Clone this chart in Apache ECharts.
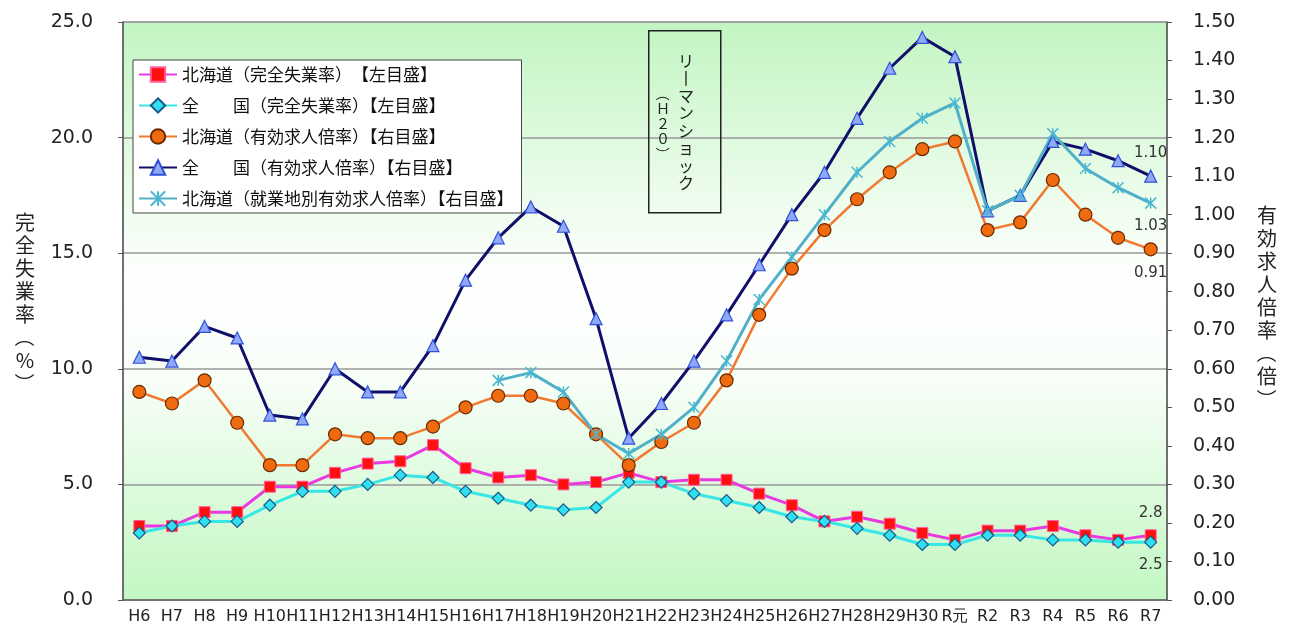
<!DOCTYPE html>
<html>
<head>
<meta charset="utf-8">
<script src="https://cdn.jsdelivr.net/npm/echarts@6/dist/echarts.min.js"></script>
<style>
  html, body { margin: 0; padding: 0; background: #fff; }
  #chart { width: 1293px; height: 626px; }
</style>
</head>
<body>
<div id="chart"></div>
<script>
// 年度
const years = ['H6','H7','H8','H9','H10','H11','H12','H13','H14','H15','H16','H17','H18','H19','H20',
  'H21','H22','H23','H24','H25','H26','H27','H28','H29','H30','R元','R2','R3','R4','R5','R6','R7'];

// 完全失業率（%）左目盛
const hokkaidoUnemp = [3.2,3.2,3.8,3.8,4.9,4.9,5.5,5.9,6.0,6.7,5.7,5.3,5.4,5.0,5.1,5.5,5.1,5.2,5.2,4.6,
  4.1,3.4,3.6,3.3,2.9,2.6,3.0,3.0,3.2,2.8,2.6,2.8];
const nationUnemp = [2.9,3.2,3.4,3.4,4.1,4.7,4.7,5.0,5.4,5.3,4.7,4.4,4.1,3.9,4.0,5.1,5.1,4.6,4.3,4.0,
  3.6,3.4,3.1,2.8,2.4,2.4,2.8,2.8,2.6,2.6,2.5,2.5];

// 有効求人倍率（倍）右目盛
const hokkaidoRatio = [0.54,0.51,0.57,0.46,0.35,0.35,0.43,0.42,0.42,0.45,0.50,0.53,0.53,0.51,0.43,0.35,
  0.41,0.46,0.57,0.74,0.86,0.96,1.04,1.11,1.17,1.19,0.96,0.98,1.09,1.00,0.94,0.91];
const nationRatio = [0.63,0.62,0.71,0.68,0.48,0.47,0.60,0.54,0.54,0.66,0.83,0.94,1.02,0.97,0.73,0.42,
  0.51,0.62,0.74,0.87,1.00,1.11,1.25,1.38,1.46,1.41,1.01,1.05,1.19,1.17,1.14,1.10];
const workplaceRatio = [null,null,null,null,null,null,null,null,null,null,null,
  0.57,0.59,0.54,0.43,0.38,0.43,0.50,0.62,0.78,0.89,1.00,1.11,1.19,1.25,1.29,1.01,1.05,1.21,1.12,1.07,1.03];

const leftTicks = [0, 25, 5];
const rightTicks = [0, 1.5, 0.1];

// 縦書きの軸タイトル
const leftTitle = ['完','全','失','業','率','(','%',')'];
const rightTitle = ['有','効','求','人','倍','率','(','倍',')'];

const JP = '"Noto Sans CJK JP", sans-serif';
const NUM = '"DejaVu Sans", sans-serif';

// 最終年度だけラベルを付ける
function withEndLabel(arr, pos, digits) {
  return arr.map((v, i) => i === arr.length - 1
    ? { value: v, label: { show: true, position: pos, distance: 9, formatter: p => p.value.toFixed(digits),
        fontSize: 15, fontFamily: NUM, color: '#333' } }
    : v);
}

// 縦書きテキスト（括弧だけ90度回転）
function verticalText(chars, x, y0, step, size) {
  return chars.map((c, i) => {
    const paren = c === '(' || c === ')';
    return {
      type: 'text', x: x, y: y0 + i * step, z: 100,
      rotation: paren ? -Math.PI / 2 : 0,
      style: { text: paren ? (c === '(' ? '（' : '）') : c, font: size + 'px ' + JP, fill: '#222',
        align: 'center', verticalAlign: 'middle' }
    };
  });
}

const chart = echarts.init(document.getElementById('chart'));

const option = {
  animation: false,
  grid: {
    left: 123, right: 126, top: 22, bottom: 26,
    show: true,
    borderColor: '#888',
    borderWidth: 1,
    backgroundColor: {
      type: 'linear', x: 0, y: 0, x2: 0, y2: 1,
      colorStops: [
        { offset: 0, color: '#c2f5c2' },
        { offset: 0.3, color: '#ecfcec' },
        { offset: 0.45, color: '#ffffff' },
        { offset: 0.62, color: '#f8fef8' },
        { offset: 1, color: '#c2f7c2' }
      ]
    }
  },
  legend: {
    orient: 'vertical',
    left: 133, top: 60,
    padding: [6, 8, 6, 5],
    itemWidth: 38, itemHeight: 18, itemGap: 14,
    backgroundColor: '#fff',
    borderColor: '#444', borderWidth: 1,
    textStyle: { fontSize: 17, fontFamily: JP, color: '#111' }
  },
  xAxis: {
    type: 'category',
    data: years,
    axisLine: { lineStyle: { color: '#666', width: 1.5 } },
    axisTick: { inside: true, length: 5, lineStyle: { color: '#666' } },
    axisLabel: { interval: 0, margin: 9, fontSize: 16, fontFamily: NUM, color: '#222' },
    splitLine: { show: false }
  },
  yAxis: [{
    type: 'value',
    min: leftTicks[0], max: leftTicks[1], interval: leftTicks[2],
    axisLine: { show: true, lineStyle: { color: '#555', width: 1.5 } },
    axisTick: { show: true, length: 5, lineStyle: { color: '#555' } },
    axisLabel: { margin: 30, fontSize: 19, fontFamily: NUM, color: '#222', formatter: v => v.toFixed(1) },
    splitLine: { show: true, lineStyle: { color: '#999', width: 1.5 } }
  }, {
    type: 'value',
    min: rightTicks[0], max: rightTicks[1], interval: rightTicks[2],
    axisLine: { show: true, lineStyle: { color: '#555', width: 1.5 } },
    axisTick: { show: true, length: 5, lineStyle: { color: '#555' } },
    axisLabel: { margin: 26, fontSize: 19, fontFamily: NUM, color: '#222', formatter: v => v.toFixed(2) },
    splitLine: { show: false }
  }],
  series: [{
    name: '北海道（完全失業率）　【左目盛】',
    type: 'line', yAxisIndex: 0,
    data: withEndLabel(hokkaidoUnemp, 'top', 1),
    symbol: 'rect', symbolSize: 11,
    lineStyle: { color: '#e83ae0', width: 3 },
    itemStyle: { color: '#ff1010', borderColor: '#ff60a0', borderWidth: 1 }
  }, {
    name: '全　　国（完全失業率）【左目盛】',
    type: 'line', yAxisIndex: 0,
    data: withEndLabel(nationUnemp, 'bottom', 1),
    symbol: 'diamond', symbolSize: 12,
    lineStyle: { color: '#38e6e6', width: 3 },
    itemStyle: { color: '#30e0f0', borderColor: '#1a5a8a', borderWidth: 1.2 }
  }, {
    name: '北海道（有効求人倍率）【右目盛】',
    type: 'line', yAxisIndex: 1,
    data: withEndLabel(hokkaidoRatio, 'bottom', 2),
    symbol: 'circle', symbolSize: 13,
    lineStyle: { color: '#f07a30', width: 2.5 },
    itemStyle: { color: '#f06a10', borderColor: '#6a2a00', borderWidth: 1.2 }
  }, {
    name: '全　　国（有効求人倍率）【右目盛】',
    type: 'line', yAxisIndex: 1,
    data: withEndLabel(nationRatio, 'top', 2),
    symbol: 'triangle', symbolSize: 12,
    lineStyle: { color: '#10106a', width: 3 },
    itemStyle: { color: '#90a8f8', borderColor: '#3050d8', borderWidth: 1.2 }
  }, {
    name: '北海道（就業地別有効求人倍率）【右目盛】',
    type: 'line', yAxisIndex: 1,
    data: withEndLabel(workplaceRatio, 'bottom', 2),
    symbol: 'path://M0,0L10,10M10,0L0,10M5,0L5,10', symbolSize: 11,
    lineStyle: { color: '#50b0c8', width: 3 },
    itemStyle: { color: '#4ab8d0', borderColor: '#4ab8d0', borderWidth: 1.5 }
  }],
  graphic: [
    ...verticalText(leftTitle, 25, 222, 23, 20),
    ...verticalText(rightTitle, 1267, 215, 23, 20),
    {
      type: 'rect', left: 648, top: 30,
      shape: { width: 72, height: 182 },
      style: { fill: 'rgba(255,255,255,0)', stroke: '#222', lineWidth: 1.5 },
      z: 100
    }, {
      type: 'text', x: 686, y: 52, z: 100,
      style: { text: 'リ\n丨\nマ\nン\nシ\nョ\nッ\nク', font: '16px ' + JP, fill: '#222', align: 'center', lineHeight: 17.5 }
    },
    ...verticalText(['(', 'Ｈ', '２', '０', ')'], 663, 94, 15, 14)
  ]
};

chart.setOption(option);
</script>
</body>
</html>
